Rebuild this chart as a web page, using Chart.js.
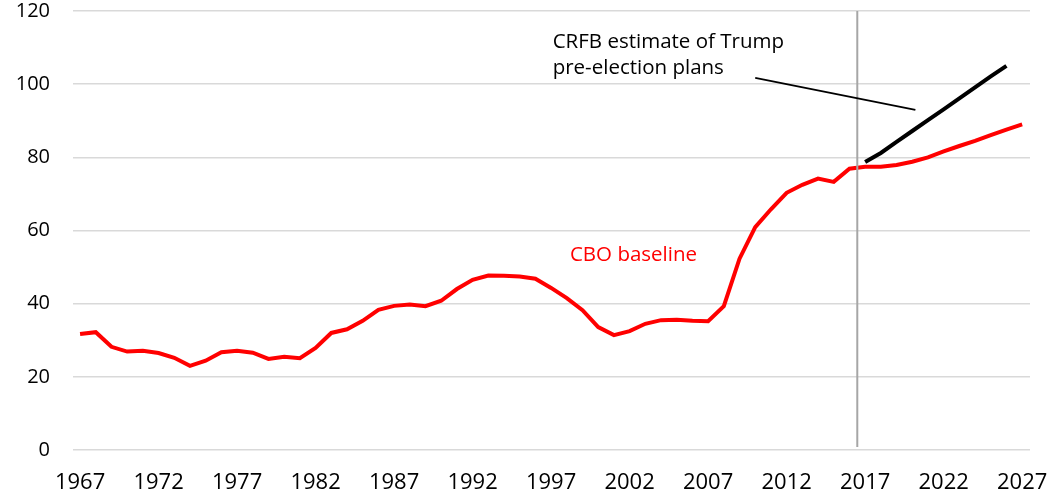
<!DOCTYPE html>
<html>
<head>
    <title>Debt held by the public, CBO baseline vs CRFB estimate</title>
    <script src="https://cdn.jsdelivr.net/npm/chart.js"></script>
    <style>
        html, body { margin: 0; padding: 0; background: #fff; }
        #wrap { width: 1049px; height: 495px; }
    </style>
</head>
<body>

<div id="wrap"><canvas id="debtChart"></canvas></div>

<script>
// years and values
const years = [1967,1968,1969,1970,1971,1972,1973,1974,1975,1976,1977,1978,1979,1980,1981,1982,1983,1984,1985,1986,1987,1988,1989,1990,1991,1992,1993,1994,1995,1996,1997,1998,1999,2000,2001,2002,2003,2004,2005,2006,2007,2008,2009,2010,2011,2012,2013,2014,2015,2016,2017,2018,2019,2020,2021,2022,2023,2024,2025,2026,2027];
const cboBaseline = [31.7,32.2,28.2,26.9,27.1,26.5,25.2,23.0,24.4,26.7,27.1,26.6,24.9,25.5,25.1,27.9,32.0,33.0,35.3,38.3,39.4,39.8,39.3,40.8,44.0,46.5,47.7,47.6,47.4,46.8,44.3,41.5,38.2,33.6,31.4,32.5,34.5,35.5,35.6,35.3,35.2,39.3,52.3,60.9,65.8,70.3,72.5,74.2,73.3,76.9,77.4,77.4,77.9,78.8,80.0,81.6,83.1,84.5,86.1,87.6,89.0];
const crfbYears = [2017,2018,2019,2020,2021,2022,2023,2024,2025,2026];
const crfbTrump = [78.7,81.2,84.2,87.2,90.2,93.1,96.1,99.1,102.1,105.0];
const xTickYears = [1967,1972,1977,1982,1987,1992,1997,2002,2007,2012,2017,2022,2027];
const yMax = 120;

const fontFamily = '"Open Sans", "Noto Sans", sans-serif';

// text, divider and leader line, placed in data units
const notes = {
    divider: 2016.5,
    leader: { x1: 2010.0, y1: 101.7, x2: 2020.2, y2: 93.0 },
    crfb: { x: 1997.1, y: 111.4, lines: ['CRFB estimate of Trump', 'pre-election plans'], step: 6.9 },
    cbo: { x: 1998.2, y: 53.3, text: 'CBO baseline' }
};

const notesPlugin = {
    id: 'notes',
    afterDatasetsDraw(chart) {
        const ctx = chart.ctx;
        const xs = chart.scales.x, ys = chart.scales.y;
        ctx.save();

        // vertical divider
        const dx = xs.getPixelForValue(notes.divider);
        ctx.strokeStyle = '#a6a6a6';
        ctx.lineWidth = 2;
        ctx.beginPath();
        ctx.moveTo(dx, ys.getPixelForValue(yMax));
        ctx.lineTo(dx, ys.getPixelForValue(0.8));
        ctx.stroke();

        // leader line
        ctx.strokeStyle = '#000';
        ctx.lineWidth = 1.8;
        ctx.beginPath();
        ctx.moveTo(xs.getPixelForValue(notes.leader.x1), ys.getPixelForValue(notes.leader.y1));
        ctx.lineTo(xs.getPixelForValue(notes.leader.x2), ys.getPixelForValue(notes.leader.y2));
        ctx.stroke();

        ctx.font = '20.5px ' + fontFamily;
        ctx.textAlign = 'left';
        ctx.textBaseline = 'middle';
        ctx.fillStyle = '#000';
        notes.crfb.lines.forEach(function(line, i) {
            ctx.fillText(line, xs.getPixelForValue(notes.crfb.x), ys.getPixelForValue(notes.crfb.y - i * notes.crfb.step));
        });
        ctx.fillStyle = '#ff0000';
        ctx.fillText(notes.cbo.text, xs.getPixelForValue(notes.cbo.x), ys.getPixelForValue(notes.cbo.y));
        ctx.restore();
    }
};

document.addEventListener("DOMContentLoaded", function() {
    const ctx = document.getElementById('debtChart').getContext('2d');

    new Chart(ctx, {
        type: 'line',
        data: {
            datasets: [{
                label: 'CBO baseline',
                data: years.map(function(y, i) { return { x: y, y: cboBaseline[i] }; }),
                borderColor: '#ff0000',
                borderWidth: 4,
                pointRadius: 0,
                tension: 0,
                fill: false
            }, {
                label: 'CRFB estimate of Trump pre-election plans',
                data: crfbYears.map(function(y, i) { return { x: y, y: crfbTrump[i] }; }),
                borderColor: '#000000',
                borderWidth: 4,
                pointRadius: 0,
                tension: 0,
                fill: false
            }]
        },
        options: {
            responsive: true,
            maintainAspectRatio: false,
            animation: false,
            layout: { padding: { top: 11, right: 19, left: 0, bottom: 0 } },
            scales: {
                x: {
                    type: 'linear',
                    min: 1966.55,
                    max: 2027.5,
                    afterBuildTicks: function(scale) {
                        scale.ticks = xTickYears.map(function(v) { return { value: v }; });
                    },
                    afterFit: function(scale) {
                        scale.height = 45;
                        scale.paddingLeft = 0;
                        scale.paddingRight = 0;
                    },
                    grid: { display: false, drawTicks: false },
                    border: { display: false },
                    ticks: {
                        autoSkip: false,
                        maxRotation: 0,
                        padding: 20,
                        color: '#000',
                        font: { family: fontFamily, size: 22 },
                        callback: function(v) { return String(v); }
                    }
                },
                y: {
                    min: 0,
                    max: yMax,
                    afterFit: function(scale) {
                        scale.width = 73;
                        scale.paddingTop = 0;
                        scale.paddingBottom = 0;
                    },
                    grid: { color: '#d9d9d9', lineWidth: 1.5, drawTicks: false },
                    border: { display: false },
                    ticks: {
                        stepSize: 20,
                        padding: 23,
                        color: '#000',
                        font: { family: fontFamily, size: 20 }
                    }
                }
            },
            plugins: {
                legend: { display: false },
                tooltip: { enabled: false }
            }
        },
        plugins: [notesPlugin]
    });
});
</script>

</body>
</html>
